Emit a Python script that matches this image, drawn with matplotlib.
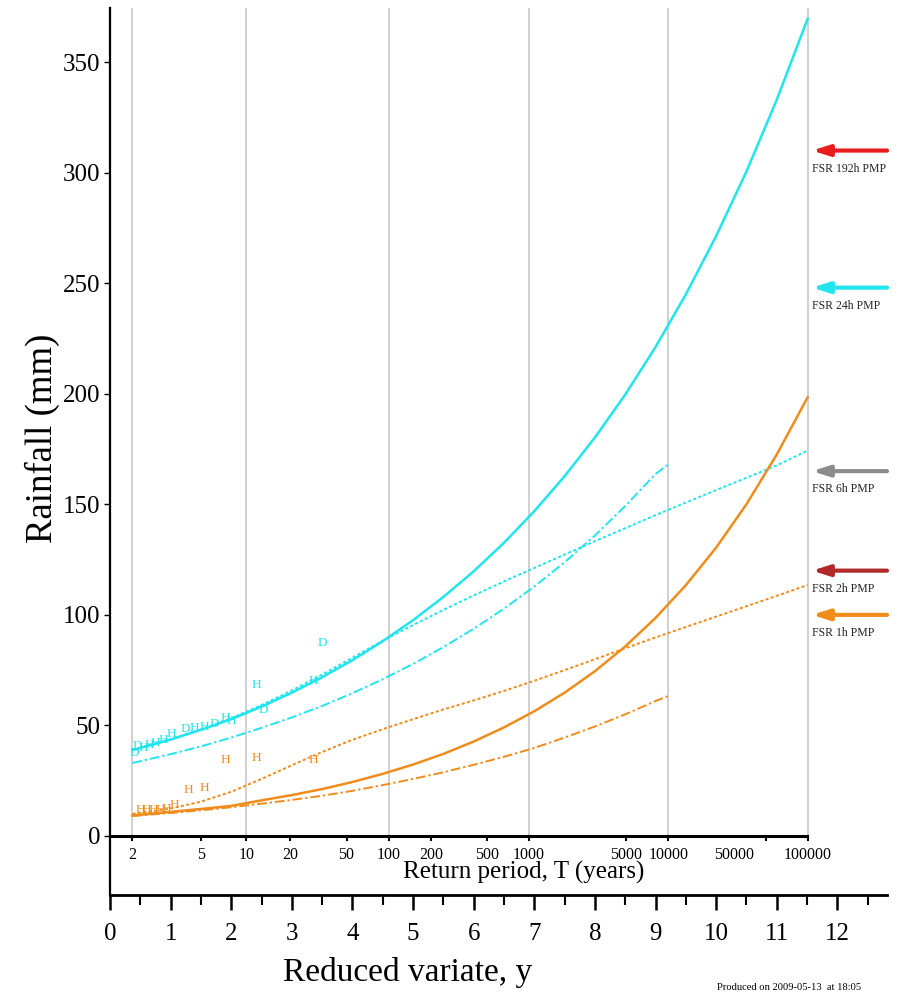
import numpy as np
import matplotlib
matplotlib.use("Agg")
import matplotlib.pyplot as plt

plt.rcParams['font.family'] = ['Liberation Serif', 'DejaVu Serif']

# reduced variate positions where the growth curves are tabulated
yv = [0.37, 1.0, 1.5, 2.0, 2.5, 3.0, 3.5, 4.0, 4.5, 5.0, 5.5, 6.0, 6.5, 7.0,
      7.5, 8.0, 8.5, 9.0, 9.5, 10.0, 10.5, 11.0, 11.51]
yv_short = [0.37, 1.0, 1.5, 2.0, 2.5, 3.0, 3.5, 4.0, 4.5, 5.0, 5.5, 6.0, 6.5,
            7.0, 7.5, 8.0, 8.5, 9.0, 9.21]

# 24h depth curves (cyan)
d24_solid = [38.8, 43.6, 48.0, 52.8, 58.5, 64.8, 71.8, 79.5, 88.1, 97.6,
             108.1, 119.7, 132.6, 146.9, 162.7, 180.2, 199.6, 221.1, 244.9,
             271.3, 300.5, 332.9, 369.6]
d24_dotted = [39, 43.8, 48.2, 53.3, 59.2, 65.8, 73, 80.6, 88.3, 95.4, 102.2,
              108.8, 115.1, 121.2, 127.3, 133.3, 139.2, 145.1, 150.8, 156.4,
              162, 167.6, 174.3]
d24_dashdot = [33, 37, 40.5, 44.5, 48.9, 53.6, 58.8, 64.6, 70.9, 77.8, 85.4,
               93.7, 102.8, 112.8, 123.8, 135.9, 149.2, 163.7, 168]

# 1h depth curves (orange)
d1_solid = [9.3, 10.9, 12.2, 13.6, 16.1, 18.5, 21.2, 24.4, 28.1, 32.3, 37.1,
            42.7, 49.1, 56.4, 64.8, 74.5, 85.7, 98.6, 113.4, 130.4, 150,
            172.5, 198.4]
d1_dotted = [10, 12.4, 15.5, 20, 25.8, 32, 38, 43.5, 48.3, 52.8, 57.2, 61.3,
             65.6, 70.2, 75, 79.9, 84.9, 89.8, 94.5, 99.2, 103.9, 108.6, 113.5]
d1_dashdot = [9, 10.4, 11.6, 13, 14.6, 16.3, 18.2, 20.4, 23, 25.8, 28.8, 32.2,
              35.8, 39.8, 44.5, 49.5, 55, 61, 63.3]

# annual maxima plotted as letters (H = hourly gauge, D = daily gauge)
obs24_y = [0.40, 0.45, 0.55, 0.65, 0.75, 0.88, 1.02, 1.24, 1.40, 1.55, 1.72,
           1.90, 2.00, 2.41, 2.53, 3.35, 3.50]
obs24_mm = [37.5, 40.5, 40, 41, 42, 43.5, 46, 48.5, 49, 49.5, 50.5, 53.5, 52,
            68.3, 57, 70, 87.3]
obs24_lab = ['D', 'D', 'H', 'H', 'H', 'H', 'H', 'D', 'H', 'H', 'D', 'H', 'H',
             'H', 'D', 'H', 'D']
obs1_y = [0.50, 0.60, 0.71, 0.83, 0.93, 1.07, 1.29, 1.56, 1.90, 2.42, 3.35]
obs1_mm = [11.8, 11.8, 11.8, 11.8, 12.2, 14, 20.8, 21.6, 34.4, 35.1, 34.4]
obs1_lab = ['H'] * 11

# PMP estimates shown as arrows on the right
pmp_labels = ['FSR 192h PMP', 'FSR 24h PMP', 'FSR 6h PMP', 'FSR 2h PMP',
              'FSR 1h PMP']
pmp_values = [310, 248, 165, 120, 100]
pmp_colors = ['#e81c1c', '#22e4ee', '#8c8c8c', '#b02a2a', '#ef8c1c']

rp_ticks = [2, 5, 10, 20, 50, 100, 200, 500, 1000, 5000, 10000, 50000, 100000]
rp_grid = [2, 10, 100, 1000, 10000, 100000]

CYAN = '#22e4ee'
ORANGE = '#ef8c1c'


def gumbel_y(T):
    T = np.asarray(T, dtype=float)
    return -np.log(-np.log(1.0 - 1.0 / T))


fig = plt.figure(figsize=(9.02, 9.93), dpi=100)
ax = fig.add_axes([0.122, 0.0987, 0.8614, 0.8933])
ax.set_xlim(0, 12.82)
ax.set_ylim(-26.7, 374.5)

# return period grid
ax.vlines(gumbel_y(rp_grid), 0, 374.5, colors='#c8c8c8', lw=1.2, zorder=1)

dot = (0, (1.6, 1.2))
dashdot = (0, (5, 1.5, 1.2, 1.5))
ax.plot(yv, d24_solid, color=CYAN, lw=1.8, zorder=3)
ax.plot(yv, d24_dotted, color=CYAN, lw=1.4, ls=dot, zorder=3)
ax.plot(yv_short, d24_dashdot, color=CYAN, lw=1.4, ls=dashdot, zorder=3)
ax.plot(yv, d1_solid, color=ORANGE, lw=1.8, zorder=3)
ax.plot(yv, d1_dotted, color=ORANGE, lw=1.4, ls=dot, zorder=3)
ax.plot(yv_short, d1_dashdot, color=ORANGE, lw=1.4, ls=dashdot, zorder=3)

for x, v, s in zip(obs24_y, obs24_mm, obs24_lab):
    ax.text(x, v, s, color=CYAN, fontsize=9.5, ha='center', va='center',
            zorder=4)
for x, v, s in zip(obs1_y, obs1_mm, obs1_lab):
    ax.text(x, v, s, color=ORANGE, fontsize=9.5, ha='center', va='center',
            zorder=4)

# zero line with return period scale underneath
y_end = float(gumbel_y(100000))
ax.plot([0, y_end], [0, 0], color='black', lw=2.2, zorder=5,
        solid_capstyle='butt')
for T in rp_ticks:
    x = float(gumbel_y(T))
    ax.plot([x, x], [0, -1.8], color='black', lw=1.5, zorder=5)
    # 50000 is nudged left so it does not run into 100000
    xl = x - 0.53 if T == 50000 else x
    ax.text(xl, -8.6, str(T), fontsize=11.5, ha='center', va='center')

# PMP arrows
x_tip = (812 - 110) / 60.6
for lab, v, c in zip(pmp_labels, pmp_values, pmp_colors):
    ax.annotate('', xy=(x_tip, v), xytext=(12.82, v),
                arrowprops=dict(arrowstyle='-|>,head_length=1.0,head_width=0.32',
                                color=c, lw=3.0, shrinkA=0, shrinkB=0))
    ax.annotate(lab, xy=(x_tip, v), xytext=(0, -13), textcoords='offset points',
                fontsize=8.5, ha='left', va='center', color='#222222')

for side in ['top', 'right']:
    ax.spines[side].set_visible(False)
ax.spines['left'].set_linewidth(1.6)
ax.spines['bottom'].set_linewidth(2.0)

ax.set_yticks(np.arange(0, 351, 50))
ax.tick_params(axis='y', direction='out', length=4, width=1, pad=3,
               labelsize=18)
ax.set_xticks(np.arange(0, 13, 1))
ax.set_xticks(np.arange(0.5, 13, 1), minor=True)
ax.tick_params(axis='x', which='major', direction='out', length=11, width=1.8,
               pad=9, labelsize=18)
ax.tick_params(axis='x', which='minor', direction='out', length=7, width=1.5)

fig.text(42 / 902, 1 - 438 / 993, 'Rainfall (mm)', rotation=90, fontsize=26.5,
         ha='center', va='center')
fig.text(524 / 902, 1 - 872 / 993, 'Return period, T (years)', fontsize=18,
         ha='center', va='center')
fig.text(408 / 902, 1 - 972 / 993, 'Reduced variate, y', fontsize=24,
         ha='center', va='center')
fig.text(717 / 902, 1 - 988 / 993, 'Produced on 2009-05-13  at 18:05',
         fontsize=7.6, ha='left', va='center')

fig.savefig('out.png', dpi=100)
